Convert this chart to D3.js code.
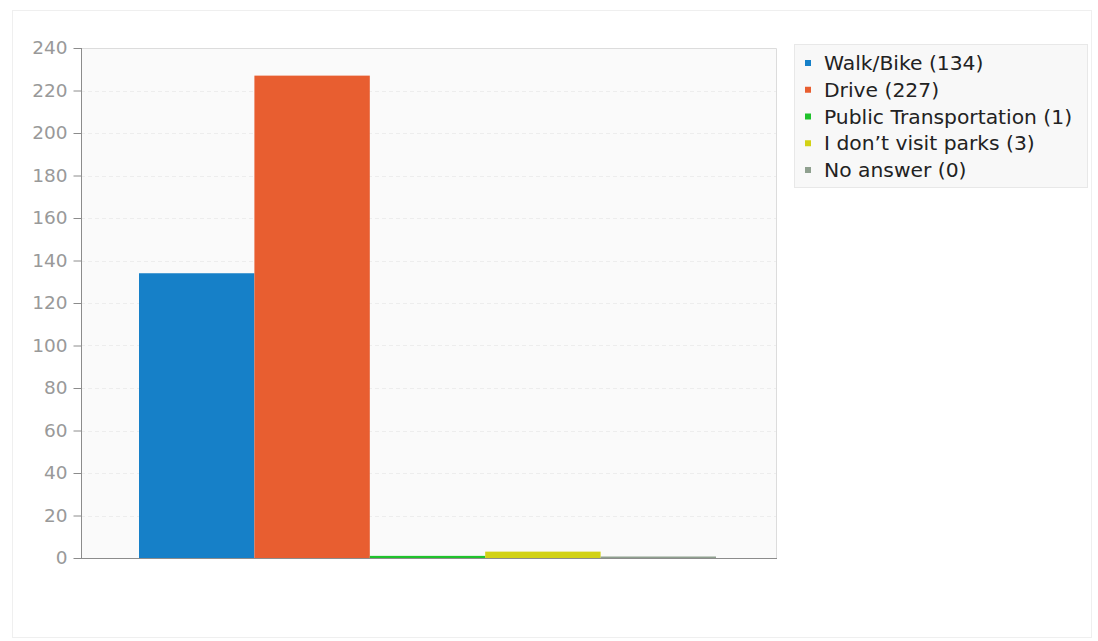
<!DOCTYPE html>
<html>
<head>
<meta charset="utf-8">
<script src="https://cdn.jsdelivr.net/npm/d3@7"></script>
<style>
  html, body { margin: 0; padding: 0; background: #ffffff; }
  svg { display: block; font-family: "DejaVu Sans", sans-serif; }
</style>
</head>
<body>
<svg id="chart" width="1098" height="641"></svg>
<script>
const categories = ["Walk/Bike", "Drive", "Public Transportation", "I don\u2019t visit parks", "No answer"];
const values = [134, 227, 1, 3, 0];
const colors = ["#1680c8", "#e85e30", "#1fc22b", "#d2d215", "#8fa08f"];
const yTicks = [0, 20, 40, 60, 80, 100, 120, 140, 160, 180, 200, 220, 240];

const svg = d3.select("#chart");
const margin = { left: 81, top: 48, right: 776, bottom: 558 };

// outer frame
svg.append("rect")
  .attr("x", 12.5).attr("y", 10.5).attr("width", 1079).attr("height", 627)
  .attr("fill", "#ffffff").attr("stroke", "#efefef");

const x = d3.scaleBand().domain(categories)
  .range([139, 716]).paddingInner(0).paddingOuter(0);
const y = d3.scaleLinear().domain([0, 240]).range([margin.bottom, margin.top]);

// plot background
svg.append("rect")
  .attr("x", margin.left).attr("y", margin.top)
  .attr("width", margin.right - margin.left).attr("height", margin.bottom - margin.top)
  .attr("fill", "#fafafa");

// gridlines
svg.append("g").selectAll("line").data(yTicks.filter(d => d > 0 && d < 240)).join("line")
  .attr("x1", margin.left).attr("x2", margin.right)
  .attr("y1", d => Math.round(y(d)) + 0.5).attr("y2", d => Math.round(y(d)) + 0.5)
  .attr("stroke", "#ededed").attr("stroke-dasharray", "4,3");

// top and right border
svg.append("path")
  .attr("d", `M${margin.left},${margin.top + 0.5}H${margin.right + 0.5}V${margin.bottom}`)
  .attr("fill", "none").attr("stroke", "#dcdcdc");

// bars
svg.append("g").selectAll("rect").data(values).join("rect")
  .attr("x", (d, i) => x(categories[i]))
  .attr("width", x.bandwidth())
  .attr("y", d => Math.min(y(d), y(0) - 1.5))
  .attr("height", d => Math.max(y(0) - y(d), 1.5))
  .attr("fill", (d, i) => colors[i]);

// y axis
const yAxis = d3.axisLeft(y).tickValues(yTicks).tickSize(8).tickPadding(6);
const gy = svg.append("g").attr("transform", `translate(${margin.left + 0.5},0)`).call(yAxis);
gy.select(".domain").attr("stroke", "#8c8c8c").attr("d", `M0,${margin.top}V${margin.bottom + 0.5}`);
gy.selectAll(".tick line").attr("stroke", "#8c8c8c");
gy.selectAll(".tick text").attr("fill", "#999999").attr("font-size", 18.5)
  .attr("font-family", "DejaVu Sans, sans-serif");

// x axis baseline
svg.append("line")
  .attr("x1", margin.left).attr("x2", margin.right + 1)
  .attr("y1", margin.bottom + 0.5).attr("y2", margin.bottom + 0.5)
  .attr("stroke", "#8c8c8c");

// legend
const lg = svg.append("g");
lg.append("rect")
  .attr("x", 794.5).attr("y", 44.5).attr("width", 293).attr("height", 143)
  .attr("fill", "#f8f8f8").attr("stroke", "#e8e8e8");
const rowY = d3.scaleLinear().domain([0, 4]).range([63, 170]);
const items = lg.selectAll("g.item").data(categories).join("g").attr("class", "item")
  .attr("transform", (d, i) => `translate(0,${rowY(i)})`);
items.append("rect").attr("x", 805).attr("y", -3).attr("width", 6).attr("height", 6)
  .attr("fill", (d, i) => colors[i]);
items.append("text").attr("x", 824).attr("y", 0).attr("dy", "0.35em")
  .attr("font-size", 20.3).attr("fill", "#222222")
  .text((d, i) => `${d} (${values[i]})`);
</script>
</body>
</html>
